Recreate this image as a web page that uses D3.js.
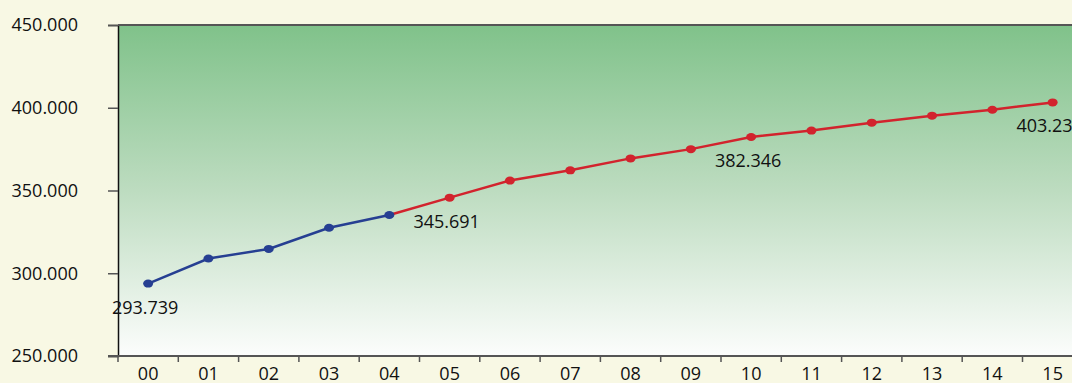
<!DOCTYPE html>
<html lang="en">
<head>
    <meta charset="UTF-8">
    <title>Line chart 00-15</title>
    <script src="https://d3js.org/d3.v7.min.js"></script>
    <style>
        body {
            margin: 0;
            padding: 0;
            background-color: #f8f8e4;
            overflow: hidden;
        }
        svg text {
            font-family: 'Open Sans', sans-serif;
            font-size: 18px;
            fill: #111;
        }
    </style>
</head>
<body>
    <div id="chart"></div>

    <script>
        // Data
        const years = ["00", "01", "02", "03", "04", "05", "06", "07", "08", "09", "10", "11", "12", "13", "14", "15"];
        const values = [293.739, 308.9, 314.7, 327.5, 335.2, 345.691, 356.0, 362.2, 369.4, 375.0, 382.346, 386.2, 391.0, 395.2, 398.8, 403.239];
        const lastActual = 4;               // 00-04 blue, after that red
        const labelled = ["00", "05", "10", "15"];
        const yTicks = [250, 300, 350, 400, 450];

        const W = 1072, H = 383;
        const margin = { top: 25, left: 118, bottom: 27 };
        const bandW = 60.3;

        const svg = d3.select("#chart")
            .append("svg")
            .attr("width", W)
            .attr("height", H);

        const x = d3.scaleBand()
            .domain(years)
            .range([margin.left, margin.left + bandW * years.length])
            .padding(0);

        const y = d3.scaleLinear()
            .domain([250, 450])
            .range([H - margin.bottom, margin.top]);

        const cx = d => x(d) + x.bandwidth() / 2;

        // background gradient of the plot area
        const grad = svg.append("defs")
            .append("linearGradient")
            .attr("id", "bg")
            .attr("x1", 0).attr("y1", 0)
            .attr("x2", 0).attr("y2", 1);
        grad.append("stop").attr("offset", "0%").attr("stop-color", "#80c28a");
        grad.append("stop").attr("offset", "50%").attr("stop-color", "#bddcc0");
        grad.append("stop").attr("offset", "100%").attr("stop-color", "#fcfdfc");

        svg.append("rect")
            .attr("x", margin.left)
            .attr("y", y(450))
            .attr("width", x.range()[1] - margin.left)
            .attr("height", y(250) - y(450))
            .attr("fill", "url(#bg)");

        // y axis
        const yAxis = svg.append("g")
            .attr("transform", `translate(${margin.left},0)`)
            .call(d3.axisLeft(y)
                .tickValues(yTicks)
                .tickSize(10)
                .tickPadding(30)
                .tickFormat(d => d3.format(".3f")(d)));
        yAxis.select(".domain").attr("stroke", "#111").attr("stroke-width", 1.5);
        yAxis.selectAll(".tick line").attr("stroke", "#555").attr("stroke-width", 1.5);
        yAxis.selectAll("text").style("font-size", "18px").attr("fill", "#111");

        // top border
        svg.append("line")
            .attr("x1", margin.left).attr("x2", W)
            .attr("y1", y(450)).attr("y2", y(450))
            .attr("stroke", "#555").attr("stroke-width", 2);

        // x axis: labels centred in bands, ticks at band edges
        const xAxis = svg.append("g")
            .attr("transform", `translate(0,${y(250)})`)
            .call(d3.axisBottom(x).tickSize(0).tickPadding(11));
        xAxis.select(".domain").remove();
        xAxis.selectAll("text").style("font-size", "18px").attr("fill", "#111");

        svg.append("line")
            .attr("x1", margin.left - 10).attr("x2", W)
            .attr("y1", y(250)).attr("y2", y(250))
            .attr("stroke", "#555").attr("stroke-width", 2);

        svg.append("g")
            .selectAll("line")
            .data(years)
            .enter().append("line")
            .attr("x1", d => x(d)).attr("x2", d => x(d))
            .attr("y1", y(250)).attr("y2", y(250) + 6)
            .attr("stroke", "#555")
            .attr("stroke-width", 1.5);

        // lines
        const line = d3.line()
            .x(d => cx(d.year))
            .y(d => y(d.value));

        const points = years.map((yr, i) => ({ year: yr, value: values[i], i: i }));
        const actual = points.filter(d => d.i <= lastActual);
        const projected = points.filter(d => d.i >= lastActual);

        svg.append("path")
            .datum(projected)
            .attr("fill", "none")
            .attr("stroke", "#d2232d")
            .attr("stroke-width", 2.5)
            .attr("d", line);

        svg.append("path")
            .datum(actual)
            .attr("fill", "none")
            .attr("stroke", "#263f92")
            .attr("stroke-width", 2.5)
            .attr("d", line);

        svg.append("g")
            .selectAll("ellipse")
            .data(points)
            .enter().append("ellipse")
            .attr("cx", d => cx(d.year))
            .attr("cy", d => y(d.value))
            .attr("rx", 5)
            .attr("ry", 4)
            .attr("fill", d => d.i <= lastActual ? "#263f92" : "#d2232d");

        // value labels
        svg.append("g")
            .selectAll("text")
            .data(points.filter(d => labelled.includes(d.year)))
            .enter().append("text")
            .attr("x", d => cx(d.year) - 3)
            .attr("y", d => y(d.value) + 30)
            .attr("text-anchor", "middle")
            .text(d => d3.format(".3f")(d.value));
    </script>
</body>
</html>
